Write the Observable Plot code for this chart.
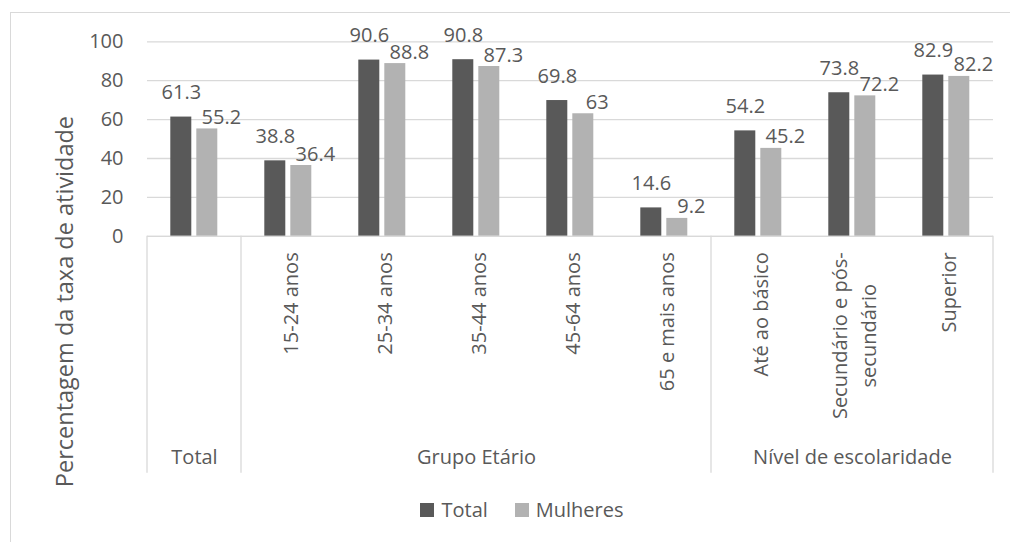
<!DOCTYPE html>
<html>
<head>
<meta charset="utf-8">
<script src="https://cdn.jsdelivr.net/npm/d3@7"></script>
<script src="https://cdn.jsdelivr.net/npm/@observablehq/plot@0.6"></script>
<style>
  html, body { margin: 0; padding: 0; background: #ffffff; }
  body { font-family: "Open Sans", sans-serif; color: #595959; }
  #wrap { position: relative; width: 1010px; height: 542px; overflow: hidden; background: #fff; }
  #border { position: absolute; left: 10px; top: 12px; width: 1010px; height: 540px; border-left: 1px solid #d9d9d9; border-top: 1px solid #d9d9d9; }
  #chart { position: absolute; left: 0; top: 0; }
  #legend { position: absolute; left: 0; top: 500px; width: 1010px; box-sizing: border-box; padding-left: 34px;
            display: flex; justify-content: center; align-items: center; height: 20px; font-size: 20px; line-height: 20px; color: #595959; }
  .item { display: flex; align-items: center; }
  .item + .item { margin-left: 27px; }
  .sw { width: 14px; height: 14px; margin-right: 7px; }
</style>
</head>
<body>
<div id="wrap">
  <div id="border"></div>
  <div id="chart"></div>
  <div id="legend"></div>
</div>
<script>
// ---- data ----
const categories = ["Total", "15-24 anos", "25-34 anos", "35-44 anos", "45-64 anos", "65 e mais anos", "Até ao básico", "Secundário e pós-secundário", "Superior"];
const categoryLabels = ["", "15-24 anos", "25-34 anos", "35-44 anos", "45-64 anos", "65 e mais anos", "Até ao básico", "Secundário e pós-\nsecundário", "Superior"];
const groups = ["Total", "Grupo Etário", "Nível de escolaridade"];
const groupSizes = [1, 5, 3];
const series = ["Total", "Mulheres"];
const totalValues = [61.3, 38.8, 90.6, 90.8, 69.8, 14.6, 54.2, 73.8, 82.9];
const mulheresValues = [55.2, 36.4, 88.8, 87.3, 63, 9.2, 45.2, 72.2, 82.2];
const yTicks = [0, 20, 40, 60, 80, 100];
const colors = ["#595959", "#b2b2b2"];
const yTitle = "Percentagem da taxa de atividade";

// ---- tables built from the arrays ----
const rows = [];
categories.forEach((c, i) => {
  rows.push({cat: c, series: series[0], value: totalValues[i]});
  rows.push({cat: c, series: series[1], value: mulheresValues[i]});
});
const labelRows = categories.map((c, i) => ({cat: c, label: categoryLabels[i]})).filter(d => d.label);
const groupRows = [];
let start = 0;
groups.forEach((g, i) => {
  const n = groupSizes[i];
  groupRows.push({name: g, first: categories[start], last: categories[start + n - 1], mid: categories[start + Math.floor(n / 2)]});
  start += n;
});

// ---- layout ----
const W = 1010, H = 480;
const textColor = "#595959", gridColor = "#d9d9d9";

const plot = Plot.plot({
  width: W,
  height: H,
  marginLeft: 142.7,
  marginRight: 13.3,
  marginTop: 41.3,
  marginBottom: H - 235.8,
  style: {fontFamily: '"Open Sans", sans-serif', fontSize: "20px", color: textColor, background: "transparent", overflow: "visible"},
  fx: {domain: categories, padding: 0, axis: null, label: null},
  x: {domain: series, paddingInner: 0.21, paddingOuter: 0.895, axis: null, label: null},
  y: {domain: [0, 100], label: null},
  color: {domain: series, range: colors},
  marks: [
    Plot.gridY(yTicks, {stroke: gridColor, strokeOpacity: 1, strokeWidth: 1.3}),
    Plot.axisY(yTicks, {tickSize: 0, tickPadding: 24, label: null, fill: textColor, fontSize: 20}),
    Plot.barY(rows, {fx: "cat", x: "series", y: "value", fill: "series"}),
    Plot.ruleY([0], {stroke: gridColor, strokeWidth: 1.3}),
    Plot.text(rows.filter(d => d.series === series[0]), {fx: "cat", x: "series", y: "value", text: d => String(d.value), lineAnchor: "bottom", dy: -18, fill: textColor, fontSize: 20}),
    Plot.text(rows.filter(d => d.series === series[1]), {fx: "cat", x: "series", y: "value", text: d => String(d.value), lineAnchor: "bottom", dx: 14, dy: -5, fill: textColor, fontSize: 20}),
    Plot.text(labelRows, {fx: "cat", text: "label", frameAnchor: "bottom", rotate: -90, textAnchor: "end", lineAnchor: "middle", lineHeight: 1.45, dy: 16, fill: textColor, fontSize: 20}),
    Plot.text(groupRows, {fx: "mid", text: "name", frameAnchor: "bottom", lineAnchor: "middle", dy: 221, fill: textColor, fontSize: 20}),
    Plot.text([yTitle], {fx: () => categories[0], frameAnchor: "left", rotate: -90, textAnchor: "middle", lineAnchor: "middle", dx: -82, dy: 162.5, fill: textColor, fontSize: 23.5})
  ]
});
document.getElementById("chart").appendChild(plot);

// ---- multi-level axis dividers, positioned with the plot's own scales ----
const fxS = plot.scale("fx"), yS = plot.scale("y");
const y0 = yS.apply(0);
const edges = [];
groupRows.forEach((g, i) => {
  edges.push(fxS.apply(g.first));
  if (i === groupRows.length - 1) edges.push(fxS.apply(g.last) + fxS.bandwidth);
});
d3.select(plot).append("g")
  .attr("stroke", gridColor)
  .attr("stroke-width", 1.3)
  .selectAll("line").data(edges).join("line")
  .attr("x1", d => d).attr("x2", d => d)
  .attr("y1", y0).attr("y2", y0 + 237);

// centre the second line of a wrapped category label on the first line (as in the original)
d3.select(plot).selectAll("text").each(function () {
  const ts = this.querySelectorAll("tspan");
  if (ts.length === 2) {
    const len = ts[0].getComputedTextLength();
    ts[1].setAttribute("text-anchor", "middle");
    ts[1].setAttribute("x", -len / 2);
  }
});

// ---- legend ----
const legend = d3.select("#legend");
series.forEach((s, i) => {
  const it = legend.append("div").attr("class", "item");
  it.append("div").attr("class", "sw").style("background", colors[i]);
  it.append("span").text(s);
});
</script>
</body>
</html>
